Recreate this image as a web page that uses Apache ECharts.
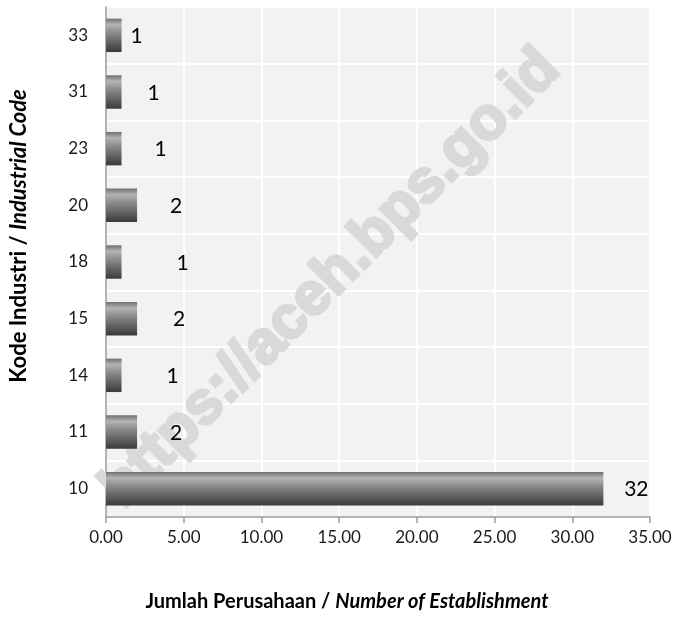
<!DOCTYPE html>
<html>
<head>
<meta charset="utf-8">
<style>
  html, body { margin: 0; padding: 0; background: #ffffff; }
  #chart { width: 675px; height: 619px; }
</style>
<script src="https://cdn.jsdelivr.net/npm/echarts@6/dist/echarts.min.js"></script>
</head>
<body>
<div id="chart"></div>
<script>
// Industrial codes, listed bottom to top
const codes = ['10', '11', '14', '15', '18', '20', '23', '31', '33'];
// Number of establishments per code
const counts = [32, 2, 1, 2, 1, 2, 1, 1, 1];
// Value-axis tick settings
const axisMax = 35;
const axisStep = 5;
// Horizontal distance (px) from each bar end to the centre of its value label
const labelGap = [33, 39, 51, 42, 61, 39, 39, 32, 15];

const FONT = 'Lato, "Open Sans", sans-serif';

const barGradient = new echarts.graphic.LinearGradient(0, 0, 0, 1, [
  { offset: 0, color: '#707070' },
  { offset: 0.18, color: '#b4b4b4' },
  { offset: 0.4, color: '#8e8e8e' },
  { offset: 1, color: '#3a3a3a' }
]);

function titleRich(size) {
  return {
    b: { fontFamily: FONT, fontWeight: 'bold', fontSize: size, fill: '#000' },
    bi: { fontFamily: FONT, fontWeight: 'bold', fontStyle: 'italic', fontSize: size, fill: '#000' }
  };
}

const chart = echarts.init(document.getElementById('chart'), null, { renderer: 'canvas' });

chart.setOption({
  backgroundColor: '#ffffff',
  animation: false,
  grid: {
    left: 106, right: 25, top: 7, bottom: 102,
    show: true, backgroundColor: '#f2f2f2', borderWidth: 0,
    containLabel: false
  },
  xAxis: {
    type: 'value',
    min: 0, max: axisMax, interval: axisStep,
    axisLine: { show: true, lineStyle: { color: '#9b9b9b', width: 1.5 } },
    axisTick: { show: true, length: 6, lineStyle: { color: '#9b9b9b', width: 1.5 } },
    axisLabel: {
      margin: 12, color: '#1a1a1a', fontFamily: FONT, fontSize: 17,
      formatter: v => v.toFixed(2)
    },
    splitLine: { show: true, lineStyle: { color: '#ffffff', width: 2 } }
  },
  yAxis: {
    type: 'category',
    data: codes,
    axisLine: { show: true, lineStyle: { color: '#9b9b9b', width: 1.5 } },
    axisTick: { show: false },
    axisLabel: { margin: 18, color: '#1a1a1a', fontFamily: FONT, fontSize: 17 },
    splitLine: { show: true, lineStyle: { color: '#ffffff', width: 2 } }
  },
  graphic: [
    {
      type: 'text',
      z: 1,
      silent: true,
      x: 331, y: 279,
      rotation: 45 * Math.PI / 180,
      style: {
        text: 'https://aceh.bps.go.id',
        font: 'bold 60px "Liberation Sans", Arial, sans-serif',
        fill: '#d9d9d9',
        stroke: '#d9d9d9',
        lineWidth: 3,
        align: 'center',
        verticalAlign: 'middle'
      }
    },
    {
      type: 'text',
      x: 19, y: 236,
      rotation: Math.PI / 2,
      style: {
        text: '{b|Kode Industri / }{bi|Industrial Code}',
        align: 'center',
        verticalAlign: 'middle',
        rich: titleRich(22)
      }
    },
    {
      type: 'text',
      x: 347, y: 602,
      style: {
        text: '{b|Jumlah Perusahaan / }{bi|Number of Establishment}',
        align: 'center',
        verticalAlign: 'middle',
        rich: titleRich(20)
      }
    }
  ],
  series: [{
    type: 'bar',
    z: 2,
    barWidth: '59%',
    itemStyle: { color: barGradient },
    data: counts.map((v, i) => ({
      value: v,
      label: {
        show: true,
        position: 'right',
        distance: 0,
        align: 'center',
        offset: [labelGap[i], 1],
        color: '#000',
        fontFamily: FONT,
        fontSize: 21
      }
    }))
  }]
});
</script>
</body>
</html>
